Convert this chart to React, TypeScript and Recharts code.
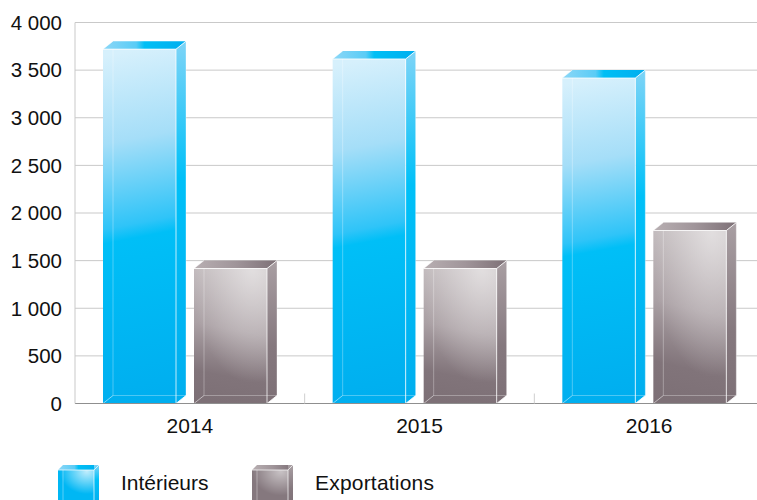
import React from "react";
import { BarChart, Bar, XAxis, YAxis, CartesianGrid, Legend } from "recharts";

const categories = ["2014", "2015", "2016"];
const interieurs = [3720, 3617, 3417];
const exportations = [1417, 1417, 1816];
const yTicks = [0, 500, 1000, 1500, 2000, 2500, 3000, 3500, 4000];
const seriesNames = ["Intérieurs", "Exportations"];

const FONT = '"Liberation Sans", Arial, sans-serif';
const DX = 10;
const DY = 8;

const data = categories.map((c, i) => ({
  year: c,
  interieurs: interieurs[i],
  exportations: exportations[i],
}));

const fmt = (v: number) => String(v).replace(/\B(?=(\d{3})+$)/g, " ");

function Box({ x, y, width, height, kind }: any) {
  const l = x - DX / 2;
  const r = l + width;
  const b = y + height;
  return (
    <g>
      <polygon points={`${l},${y} ${l + DX},${y - DY} ${r + DX},${y - DY} ${r},${y}`} fill={`url(#top-${kind})`} />
      <polygon points={`${r},${y} ${r + DX},${y - DY} ${r + DX},${b - DY} ${r},${b}`} fill={`url(#side-${kind})`} />
      <rect x={l} y={y} width={width} height={height} fill={`url(#front-${kind})`} />
      {kind === "grey" && <rect x={l} y={y} width={width} height={height} fill="url(#shine-grey)" />}
      <line x1={l + DX} y1={y} x2={l + DX} y2={b - DY} stroke="#fff" strokeOpacity={0.3} />
      <line x1={l + DX} y1={b - DY} x2={r + DX} y2={b - DY} stroke="#fff" strokeOpacity={0.3} />
      <line x1={l} y1={b} x2={l + DX} y2={b - DY} stroke="#fff" strokeOpacity={0.5} />
      <line x1={r} y1={b} x2={r + DX} y2={b - DY} stroke="#fff" strokeOpacity={0.8} />
      <line x1={l} y1={y} x2={r} y2={y} stroke="#fff" strokeOpacity={0.8} />
      <line x1={r} y1={y} x2={r} y2={b} stroke="#fff" strokeOpacity={0.75} />
      <line x1={r} y1={y} x2={r + DX} y2={y - DY} stroke="#fff" strokeOpacity={0.8} />
      <line x1={l} y1={y} x2={l + DX} y2={y - DY} stroke="#fff" strokeOpacity={0.5} />
      <line x1={r + DX} y1={y - DY} x2={r + DX} y2={b - DY} stroke="#fff" strokeOpacity={0.35} />
    </g>
  );
}

function YearTick({ x, y, payload }: any) {
  const half = payload.offset ?? 114.75;
  return (
    <g>
      <line x1={x + half} y1={393.5} x2={x + half} y2={403.5} stroke="#cfcfcf" />
      <text x={x} y={433} textAnchor="middle" fontFamily={FONT} fontSize={21} fill="#111">
        {payload.value}
      </text>
    </g>
  );
}

function Swatch({ x, kind }: any) {
  const w = 36;
  const top = 10;
  const d = 5;
  return (
    <g>
      <polygon points={`${x},${top} ${x + d},${top - d} ${x + w + d},${top - d} ${x + w},${top}`} fill={`url(#top-${kind})`} />
      <rect x={x + w} y={top - d} width={d} height={40} fill={`url(#side-${kind})`} />
      <rect x={x} y={top} width={w} height={30} fill={kind === "blue" ? "#00b7f4" : "#85787e"} />
      <rect x={x} y={top} width={w} height={30} fill={`url(#glow-${kind})`} />
      <line x1={x + d} y1={top} x2={x + d} y2={40} stroke="#fff" strokeOpacity={0.35} />
      <line x1={x} y1={top} x2={x + w} y2={top} stroke="#fff" strokeOpacity={0.7} />
      <line x1={x + w} y1={top} x2={x + w} y2={40} stroke="#fff" strokeOpacity={0.7} />
      <line x1={x + w} y1={top} x2={x + w + d} y2={top - d} stroke="#fff" strokeOpacity={0.7} />
    </g>
  );
}

function LegendContent() {
  return (
    <svg width={757} height={40} style={{ display: "block" }}>
      <defs>
        <radialGradient id="glow-blue" cx="0.8" cy="0.05" r="0.75">
          <stop offset="0" stopColor="#fff" stopOpacity={0.75} />
          <stop offset="1" stopColor="#fff" stopOpacity={0} />
        </radialGradient>
        <radialGradient id="glow-grey" cx="0.8" cy="0.05" r="0.8">
          <stop offset="0" stopColor="#fff" stopOpacity={0.55} />
          <stop offset="1" stopColor="#fff" stopOpacity={0} />
        </radialGradient>
      </defs>
      <Swatch x={58} kind="blue" />
      <Swatch x={252} kind="grey" />
      <text x={121} y={30} fontFamily={FONT} fontSize={21} fill="#111">{seriesNames[0]}</text>
      <text x={315} y={30} fontFamily={FONT} fontSize={21} letterSpacing={0.2} fill="#111">{seriesNames[1]}</text>
    </svg>
  );
}

export default function App() {
  return (
    <div style={{ position: "absolute", left: 0, top: 0, width: 757, height: 500, overflow: "hidden", background: "#fff" }}>
      <BarChart
        width={764}
        height={500}
        data={data}
        barSize={73}
        barGap={18}
        margin={{ top: 22.5, right: 0, bottom: 0, left: 0 }}
      >
        <defs>
          <linearGradient id="front-blue" x1="0.48" y1="0" x2="0.52" y2="1">
            <stop offset="0" stopColor="#d6f0fc" />
            <stop offset="0.25" stopColor="#a5def8" />
            <stop offset="0.49" stopColor="#2fc4f8" />
            <stop offset="0.53" stopColor="#00bff7" />
            <stop offset="1" stopColor="#00aeef" />
          </linearGradient>
          <linearGradient id="side-blue" x1="0" y1="0" x2="0" y2="1">
            <stop offset="0" stopColor="#7ed4f7" />
            <stop offset="0.38" stopColor="#00c0f8" />
            <stop offset="1" stopColor="#00aeef" />
          </linearGradient>
          <linearGradient id="top-blue" x1="0" y1="0" x2="1" y2="0">
            <stop offset="0" stopColor="#8bd7f7" />
            <stop offset="0.4" stopColor="#5accf6" />
            <stop offset="0.5" stopColor="#00bff5" />
            <stop offset="1" stopColor="#00aeef" />
          </linearGradient>
          <linearGradient id="front-grey" x1="0.55" y1="0" x2="0.45" y2="1">
            <stop offset="0" stopColor="#c4bdbf" />
            <stop offset="0.45" stopColor="#aaa0a4" />
            <stop offset="0.8" stopColor="#81747a" />
            <stop offset="1" stopColor="#7d7076" />
          </linearGradient>
          <radialGradient id="shine-grey" cx="0.8" cy="0" r="0.85">
            <stop offset="0" stopColor="#fff" stopOpacity={0.5} />
            <stop offset="1" stopColor="#fff" stopOpacity={0} />
          </radialGradient>
          <linearGradient id="side-grey" x1="0" y1="0" x2="0" y2="1">
            <stop offset="0" stopColor="#a99fa3" />
            <stop offset="0.6" stopColor="#85787e" />
            <stop offset="1" stopColor="#7d7076" />
          </linearGradient>
          <linearGradient id="top-grey" x1="0" y1="0" x2="1" y2="0">
            <stop offset="0" stopColor="#b8afb2" />
            <stop offset="0.5" stopColor="#a0959a" />
            <stop offset="1" stopColor="#7d7076" />
          </linearGradient>
        </defs>
        <CartesianGrid vertical={false} stroke="#c9c9c9" />
        <XAxis
          dataKey="year"
          height={96.5}
          axisLine={{ stroke: "#8f8f8f" }}
          tickLine={false}
          interval={0}
          tick={<YearTick />}
        />
        <YAxis
          width={75}
          domain={[0, 4000]}
          ticks={yTicks}
          tickFormatter={fmt}
          axisLine={{ stroke: "#c9c9c9" }}
          tickLine={false}
          tickMargin={7}
          tick={{ fontFamily: FONT, fontSize: 20.5, fill: "#111" }}
          interval={0}
        />
        <Bar dataKey="interieurs" name={seriesNames[0]} isAnimationActive={false} shape={(p: any) => <Box {...p} kind="blue" />} />
        <Bar dataKey="exportations" name={seriesNames[1]} isAnimationActive={false} shape={(p: any) => <Box {...p} kind="grey" />} />
        <Legend
          layout="vertical"
          align="center"
          verticalAlign="middle"
          content={<LegendContent />}
          wrapperStyle={{ position: "absolute", left: 0, top: 460, width: 757, height: 40 }}
        />
      </BarChart>
    </div>
  );
}
